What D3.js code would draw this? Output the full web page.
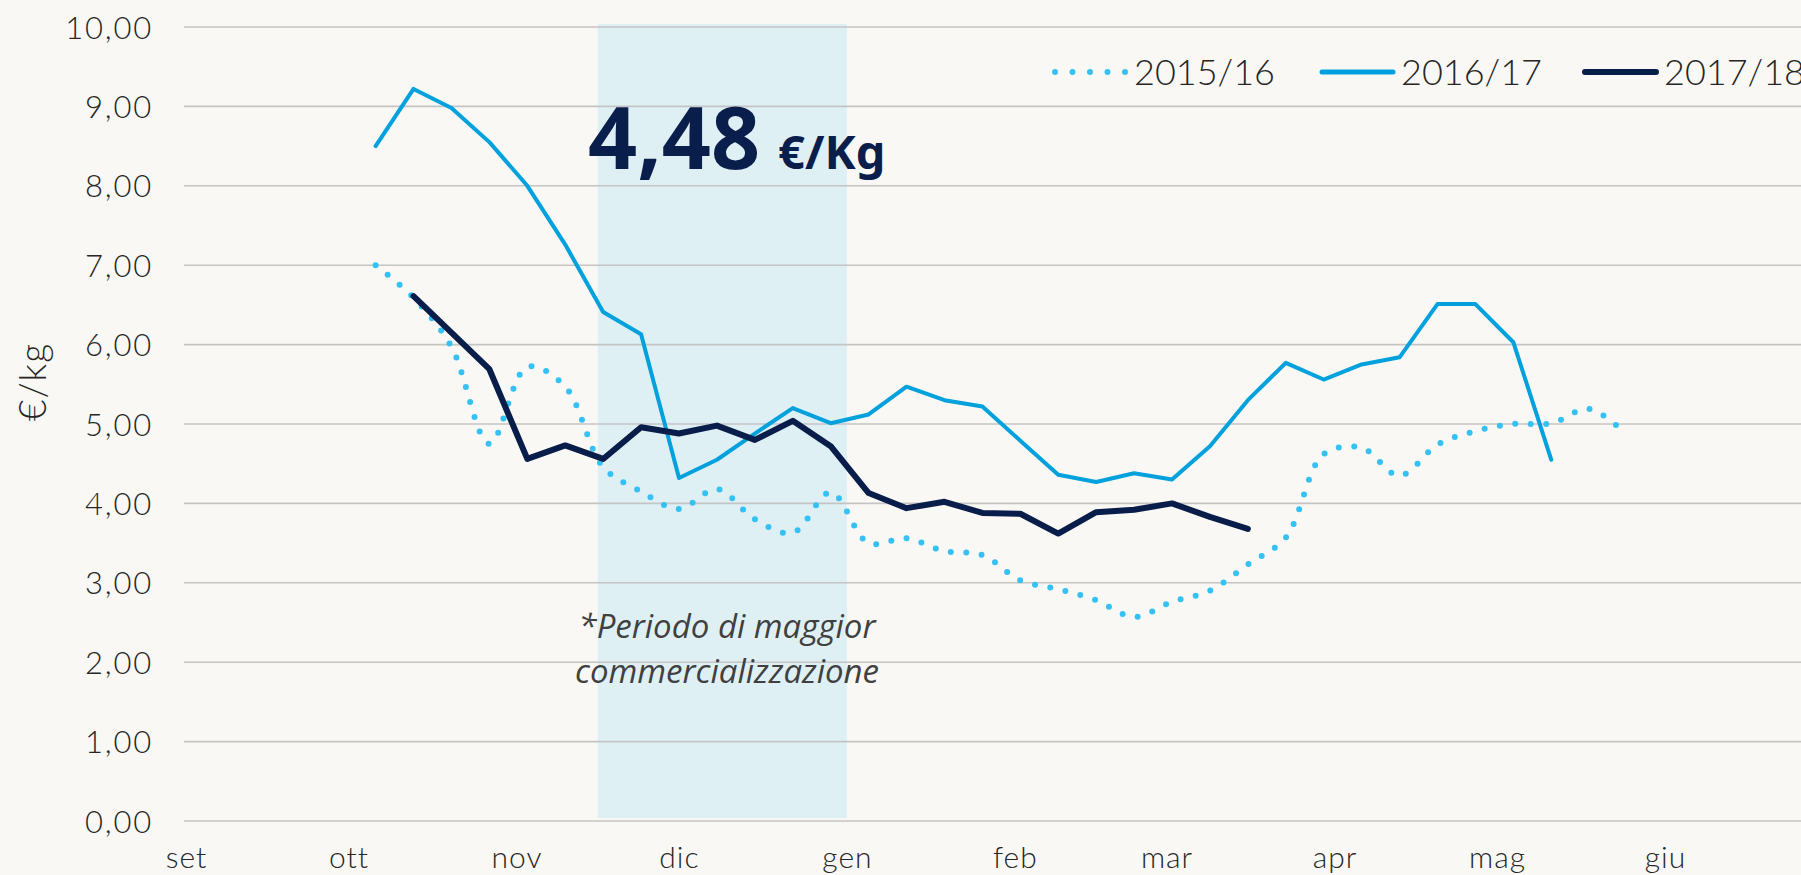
<!DOCTYPE html>
<html>
<head>
<meta charset="utf-8">
<script src="https://cdn.jsdelivr.net/npm/d3@7"></script>
<style>
  html, body { margin: 0; padding: 0; background: #f9f8f4; }
  svg { display: block; }
  .tick-label { font-family: "Century Gothic", "Lato", "DejaVu Sans", sans-serif; fill: #262626; font-weight: 300; }
</style>
</head>
<body>
<div id="chart"></div>
<script>
// weekly prices, €/kg
var start1516 = new Date(2017, 9, 6);
var values1516 = [7.00, 6.59, 5.97, 4.75, 5.72, 5.47, 4.46, 4.15, 3.93, 4.18, 3.80, 3.63, 4.14, 3.50,
  3.56, 3.40, 3.35, 3.03, 2.92, 2.78, 2.57, 2.76, 2.90, 3.23, 3.57, 4.62, 4.70, 4.35, 4.74, 4.91,
  5.00, 5.01, 5.19, 4.86];

var start1617 = new Date(2017, 9, 6);
var values1617 = [8.50, 9.22, 8.98, 8.55, 8.00, 7.26, 6.41, 6.13, 4.32, 4.55, 4.88, 5.20, 5.01, 5.12,
  5.47, 5.30, 5.22, 4.79, 4.36, 4.27, 4.38, 4.30, 4.72, 5.30, 5.77, 5.56, 5.75, 5.84, 6.51, 6.51,
  6.03, 4.55];

var start1718 = new Date(2017, 9, 13);
var values1718 = [6.61, 6.15, 5.69, 4.56, 4.73, 4.56, 4.96, 4.88, 4.98, 4.80, 5.04, 4.72, 4.13, 3.94,
  4.02, 3.88, 3.87, 3.62, 3.89, 3.92, 4.00, 3.83, 3.68];

var seriesNames = ["2015/16", "2016/17", "2017/18"];
var monthLabels = ["set", "ott", "nov", "dic", "gen", "feb", "mar", "apr", "mag", "giu"];
var yTicks = [0, 1, 2, 3, 4, 5, 6, 7, 8, 9, 10];
var periodStart = new Date(2017, 10, 16), periodEnd = new Date(2018, 0, 1);
var avgPrice = 4.48;

var width = 1801, height = 875;

var it = d3.formatLocale({decimal: ",", thousands: ".", grouping: [3], currency: ["€", ""]});
var fmt = it.format(".2f");

var x = d3.scaleTime()
  .domain([new Date(2017, 8, 1), new Date(2018, 5, 1)])
  .range([186, 1665]);
var y = d3.scaleLinear().domain([0, 10]).range([821, 27]);

function weekly(startDate, vals) {
  return vals.map(function(v, i) { return {date: d3.timeDay.offset(startDate, 7 * i), value: v}; });
}

var svg = d3.select("#chart").append("svg").attr("width", width).attr("height", height);

// shaded period
svg.append("rect")
  .attr("x", x(periodStart))
  .attr("y", y(10) - 3)
  .attr("width", x(periodEnd) - x(periodStart))
  .attr("height", y(0) - y(10))
  .style("fill", "#dff0f5");

// gridlines
svg.append("g").selectAll("line").data(yTicks).enter().append("line")
  .attr("x1", 184).attr("x2", width)
  .attr("y1", function(d) { return y(d); })
  .attr("y2", function(d) { return y(d); })
  .style("stroke", "#c4c4c4")
  .style("stroke-width", 1.6);

// y axis labels
var yAxis = d3.axisLeft(y).tickValues(yTicks).tickFormat(fmt).tickSize(0).tickPadding(0);
var gy = svg.append("g").attr("transform", "translate(153,0)").call(yAxis);
gy.select(".domain").remove();
gy.selectAll("text").attr("class", "tick-label")
  .style("font-size", "31px").style("letter-spacing", "1.8px").attr("dy", "0.36em");

// x axis labels
var months = monthLabels.map(function(m, i) { return new Date(2017, 8 + i, 1); });
var xAxis = d3.axisBottom(x).tickValues(months)
  .tickFormat(function(d, i) { return monthLabels[i]; })
  .tickSize(0).tickPadding(0);
var gx = svg.append("g").attr("transform", "translate(0,868)").call(xAxis);
gx.select(".domain").remove();
gx.selectAll("text").attr("class", "tick-label")
  .style("font-size", "30px").style("letter-spacing", "1px").attr("dy", 0).attr("y", 0);

// y title
svg.append("text")
  .attr("class", "tick-label")
  .attr("transform", "translate(46,382) rotate(-90)")
  .attr("text-anchor", "middle")
  .style("font-size", "37px")
  .style("letter-spacing", "1px")
  .text("€/kg");

var smooth = d3.line()
  .x(function(d) { return x(d.date); })
  .y(function(d) { return y(d.value); })
  .curve(d3.curveCatmullRom.alpha(0.5));
var straight = d3.line()
  .x(function(d) { return x(d.date); })
  .y(function(d) { return y(d.value); });

svg.append("path")
  .datum(weekly(start1516, values1516))
  .attr("d", smooth)
  .style("fill", "none")
  .style("stroke", "#35c1f3")
  .style("stroke-width", 6)
  .style("stroke-linecap", "round")
  .style("stroke-dasharray", "0 15.5");

svg.append("path")
  .datum(weekly(start1617, values1617))
  .attr("d", straight)
  .style("fill", "none")
  .style("stroke", "#00a1dd")
  .style("stroke-width", 4)
  .style("stroke-linejoin", "round")
  .style("stroke-linecap", "round");

svg.append("path")
  .datum(weekly(start1718, values1718))
  .attr("d", straight)
  .style("fill", "none")
  .style("stroke", "#081d4a")
  .style("stroke-width", 6)
  .style("stroke-linejoin", "round")
  .style("stroke-linecap", "round");

// legend
var legendX = [1055, 1322, 1585];
var legend = svg.append("g").selectAll("g").data(seriesNames).enter().append("g")
  .attr("transform", function(d, i) { return "translate(" + legendX[i] + ",72)"; });
legend.append("line")
  .attr("x1", 0).attr("x2", 71).attr("y1", 0).attr("y2", 0)
  .style("stroke", function(d, i) { return ["#35c1f3", "#00a1dd", "#081d4a"][i]; })
  .style("stroke-width", function(d, i) { return [6, 5, 6][i]; })
  .style("stroke-linecap", "round")
  .style("stroke-dasharray", function(d, i) { return i === 0 ? "0 17.5" : null; });
legend.append("text")
  .attr("class", "tick-label")
  .attr("x", 79).attr("y", 13)
  .style("font-size", "36px")
  .text(function(d) { return d; });

// average price callout
var callout = svg.append("text")
  .attr("x", 588).attr("y", 169)
  .style("font-family", "'Noto Sans', 'Open Sans', sans-serif")
  .style("font-weight", 700)
  .style("fill", "#0a1e4b");
callout.append("tspan").style("font-size", "86px").text(fmt(avgPrice));
callout.append("tspan").attr("dx", 18).style("font-size", "47px").text("€/Kg");

// period note
var note = svg.append("text")
  .attr("text-anchor", "middle")
  .style("font-family", "'Open Sans', sans-serif")
  .style("font-style", "italic")
  .style("font-size", "33px")
  .style("fill", "#404040");
note.append("tspan").attr("x", 727).attr("y", 638).text("*Periodo di maggior");
note.append("tspan").attr("x", 727).attr("y", 683).text("commercializzazione");
</script>
</body>
</html>
